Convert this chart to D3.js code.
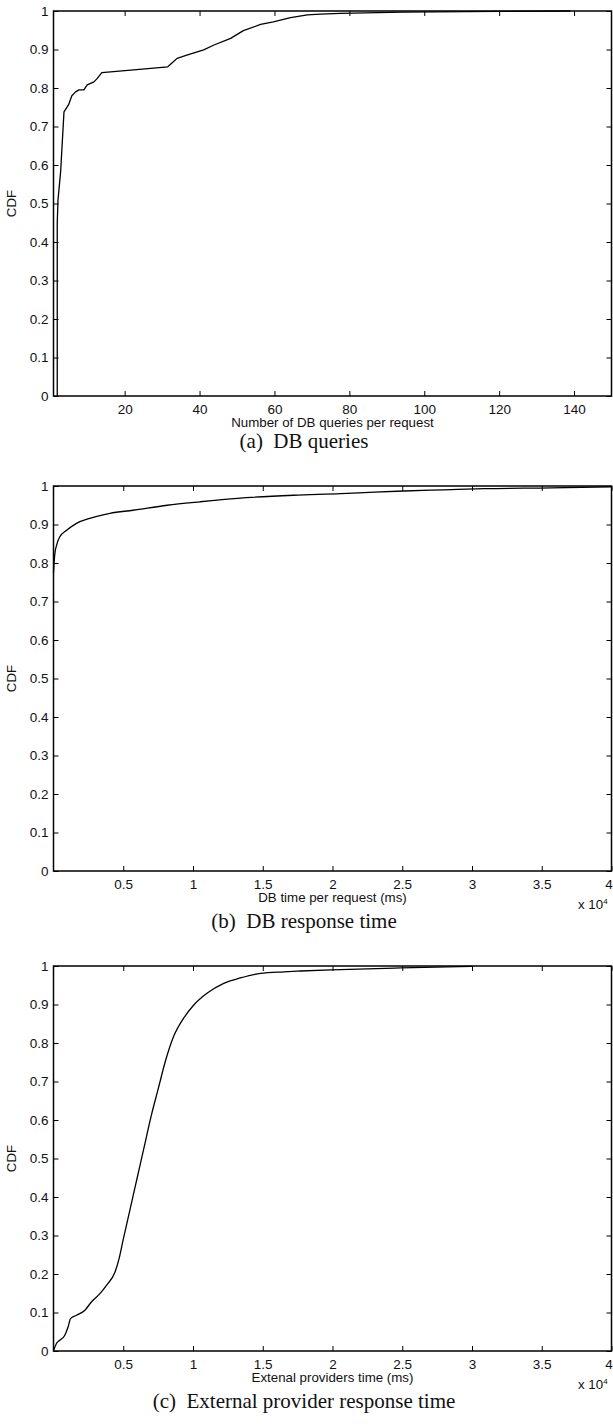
<!DOCTYPE html>
<html>
<head>
<meta charset="utf-8">
<script src="https://cdn.jsdelivr.net/npm/d3@7"></script>
<style>
  body { margin: 0; background: #fff; }
  svg { display: block; }
  .tick text { font-family: "Liberation Sans", Arial, sans-serif; font-size: 13.5px; fill: #111; }
  .axis-label { font-family: "Liberation Sans", Arial, sans-serif; font-size: 13.3px; fill: #111; }
  .caption { font-family: "Liberation Serif", "Times New Roman", serif; font-size: 21px; fill: #111; }
</style>
</head>
<body>
<div id="chart"></div>
<script>
// DATA
// (a) number of DB queries per request
const queriesX   = [2, 2, 2.2, 2.9, 3.8, 5, 5.9, 6.9, 7.8, 9.1, 10, 11.8, 12.7, 13.9, 22.4, 31.5, 33, 34, 36.8, 41.1, 43.7, 48.3, 51.7, 56.3, 59.7, 64.3, 68.8, 72.3, 77.6, 94.4, 120, 139]
const queriesCdf = [0, 0.45, 0.509, 0.582, 0.738, 0.756, 0.78, 0.79, 0.795, 0.795, 0.808, 0.816, 0.825, 0.84, 0.847, 0.855, 0.868, 0.877, 0.886, 0.899, 0.911, 0.929, 0.949, 0.965, 0.972, 0.983, 0.99, 0.992, 0.994, 0.997, 0.999, 1]

// (b) DB time per request, x 10^4 ms
const dbTimeX   = [0, 0.004, 0.01, 0.022, 0.045, 0.094, 0.165, 0.26, 0.405, 0.57, 0.815, 1.05, 1.32, 1.72, 2.06, 2.30, 2.51, 2.80, 3.09, 3.57, 4.0]
const dbTimeCdf = [0.775, 0.80, 0.825, 0.846, 0.868, 0.885, 0.903, 0.916, 0.929, 0.937, 0.95, 0.959, 0.968, 0.976, 0.98, 0.984, 0.987, 0.99, 0.993, 0.995, 0.998]

// (c) external providers time, x 10^4 ms
const extX   = [0, 0.022, 0.045, 0.081, 0.105, 0.122, 0.165, 0.225, 0.273, 0.333, 0.381, 0.441, 0.47, 0.50, 0.55, 0.60, 0.65, 0.70, 0.75, 0.80, 0.86, 0.932, 1.004, 1.10, 1.22, 1.34, 1.484, 1.65, 1.77, 1.99, 2.49, 3.0]
const extCdf = [0, 0.02, 0.028, 0.041, 0.063, 0.084, 0.093, 0.106, 0.128, 0.149, 0.171, 0.205, 0.24, 0.29, 0.37, 0.45, 0.53, 0.61, 0.68, 0.75, 0.816, 0.864, 0.898, 0.929, 0.955, 0.969, 0.981, 0.985, 0.987, 0.99, 0.995, 0.999]

const cdfTicks = d3.range(0, 11).map(i => i / 10)
const queriesTicks = [20, 40, 60, 80, 100, 120, 140]
const timeTicks = [0.5, 1, 1.5, 2, 2.5, 3, 3.5, 4]

const panels = [
  { xs: queriesX, ys: queriesCdf, domain: [1, 150], ticks: queriesTicks, smooth: false,
    xLabel: "Number of DB queries per request", caption: "(a)\u2002DB queries", exponent: false, top: 11 },
  { xs: dbTimeX, ys: dbTimeCdf, domain: [0, 4], ticks: timeTicks, smooth: true,
    xLabel: "DB time per request (ms)", caption: "(b)\u2002DB response time", exponent: true, top: 486 },
  { xs: extX, ys: extCdf, domain: [0, 4], ticks: timeTicks, smooth: true,
    xLabel: "Extenal providers time (ms)", caption: "(c)\u2002External provider response time", exponent: true, top: 966 },
]

// DIMENSIONS
const dimensions = {
  width: 613,
  height: 1427,
  left: 53.5,
  right: 611.5,
  plotHeight: 385,
}

const svg = d3.select("#chart")
  .append("svg")
  .attr("width", dimensions.width)
  .attr("height", dimensions.height)

const fmt = d => d3.format("~g")(d)

panels.forEach(p => {
  const g = svg.append("g")
    .attr("transform", `translate(0, ${p.top})`)

  const xScale = d3.scaleLinear()
    .domain(p.domain)
    .range([dimensions.left, dimensions.right])
  const yScale = d3.scaleLinear()
    .domain([0, 1])
    .range([dimensions.plotHeight, 0])

  // frame
  g.append("rect")
    .attr("x", dimensions.left)
    .attr("y", 0)
    .attr("width", dimensions.right - dimensions.left)
    .attr("height", dimensions.plotHeight)
    .attr("fill", "none")
    .attr("stroke", "#000")
    .attr("stroke-width", 1.5)

  const styleAxis = sel => {
    sel.select(".domain").remove()
    sel.selectAll(".tick line").attr("stroke", "#000").attr("stroke-width", 1)
  }

  const bottomAxis = g.append("g")
    .attr("transform", `translate(0, ${dimensions.plotHeight})`)
    .call(d3.axisBottom(xScale).tickValues(p.ticks).tickFormat(fmt).tickSize(-5).tickPadding(8))
    .call(styleAxis)
  // the label at the right corner sits against the page edge
  bottomAxis.selectAll(".tick text")
    .filter(d => xScale(d) > dimensions.width - 6)
    .attr("dx", -3)

  g.append("g")
    .call(d3.axisTop(xScale).tickValues(p.ticks).tickFormat("").tickSize(-5))
    .call(styleAxis)
  g.append("g")
    .attr("transform", `translate(${dimensions.left}, 0)`)
    .call(d3.axisLeft(yScale).tickValues(cdfTicks).tickFormat(fmt).tickSize(-5).tickPadding(5))
    .call(styleAxis)
  g.append("g")
    .attr("transform", `translate(${dimensions.right}, 0)`)
    .call(d3.axisRight(yScale).tickValues(cdfTicks).tickFormat("").tickSize(-5))
    .call(styleAxis)

  const line = d3.line()
    .x((d, i) => xScale(p.xs[i]))
    .y(d => yScale(d))
    .curve(p.smooth ? d3.curveMonotoneX : d3.curveLinear)

  g.append("path")
    .datum(p.ys)
    .attr("d", line)
    .attr("fill", "none")
    .attr("stroke", "#000")
    .attr("stroke-width", 1.3)
    .attr("stroke-linejoin", "round")

  g.append("text")
    .attr("class", "axis-label")
    .attr("transform", `translate(16, ${dimensions.plotHeight / 2}) rotate(-90)`)
    .attr("text-anchor", "middle")
    .text("CDF")

  g.append("text")
    .attr("class", "axis-label")
    .attr("x", (dimensions.left + dimensions.right) / 2)
    .attr("y", dimensions.plotHeight + 31)
    .attr("text-anchor", "middle")
    .text(p.xLabel)

  if (p.exponent) {
    const ex = g.append("text")
      .attr("class", "axis-label")
      .attr("x", 578)
      .attr("y", dimensions.plotHeight + 38)
    ex.append("tspan").text("x 10")
    ex.append("tspan")
      .attr("dy", -5)
      .style("font-size", "8px")
      .text("4")
  }

  g.append("text")
    .attr("class", "caption")
    .attr("x", 304)
    .attr("y", dimensions.plotHeight + (p.exponent ? 57 : 52))
    .attr("text-anchor", "middle")
    .text(p.caption)
})
</script>
</body>
</html>
